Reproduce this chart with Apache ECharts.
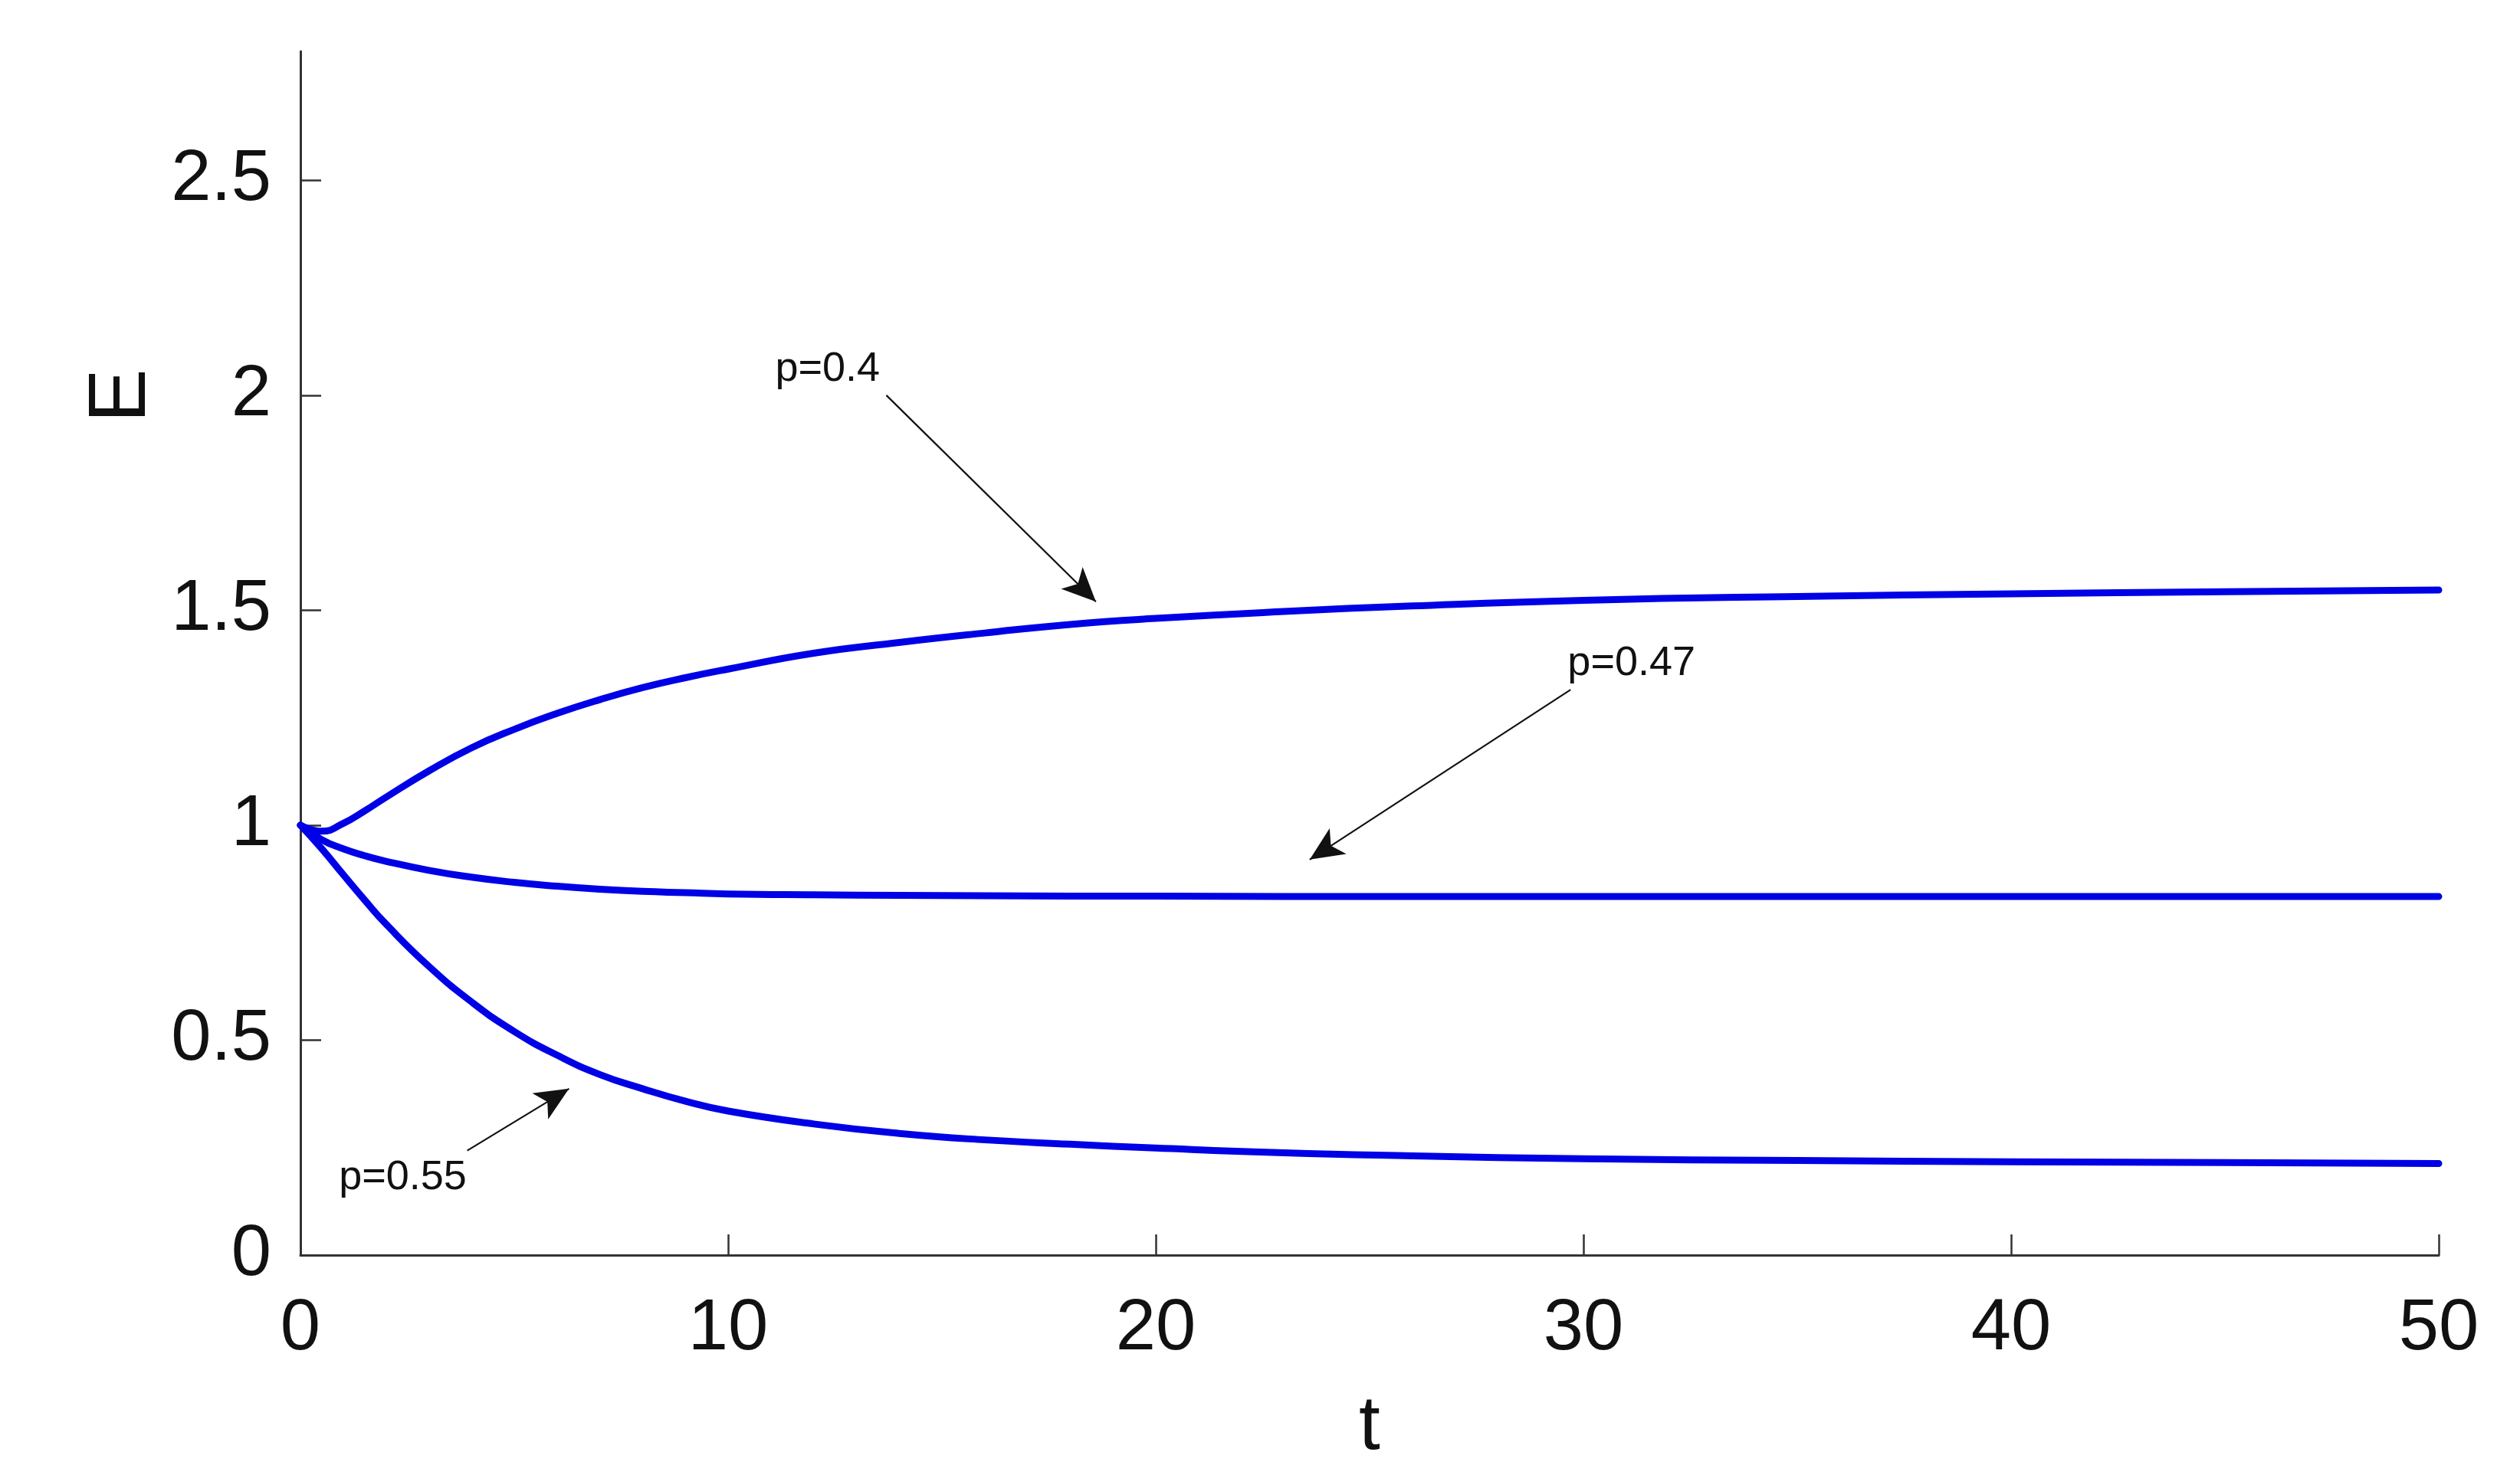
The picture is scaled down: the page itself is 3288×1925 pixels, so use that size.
<!DOCTYPE html>
<html>
<head>
<meta charset="utf-8">
<script src="https://cdn.jsdelivr.net/npm/echarts@6/dist/echarts.min.js"></script>
<style>
html,body{margin:0;padding:0;background:#fff;}
#chart{width:3288px;height:1925px;}
</style>
</head>
<body>
<div id="chart"></div>
<script>
// ---- data ----
const tValues = [0, 0.5, 1, 1.5, 2, 3, 4, 5, 6, 7, 8, 9, 10, 12, 14, 16, 18, 20, 23, 26, 30, 35, 40, 45, 50];
const eP040 = [1.0, 0.986, 1.004, 1.033, 1.065, 1.126, 1.180, 1.223, 1.260, 1.292, 1.320, 1.343, 1.363, 1.400, 1.425, 1.447, 1.467, 1.481, 1.497, 1.510, 1.523, 1.532, 1.538, 1.543, 1.547];
const eP047 = [1.0, 0.966, 0.945, 0.929, 0.916, 0.895, 0.879, 0.867, 0.858, 0.851, 0.846, 0.843, 0.840, 0.838, 0.837, 0.836, 0.835, 0.835, 0.834, 0.834, 0.834, 0.834, 0.834, 0.834, 0.834];
const eP055 = [1.0, 0.945, 0.885, 0.826, 0.770, 0.672, 0.589, 0.520, 0.465, 0.420, 0.387, 0.358, 0.335, 0.305, 0.283, 0.268, 0.258, 0.249, 0.238, 0.231, 0.224, 0.220, 0.217, 0.215, 0.213];
const yTickValues = [0, 0.5, 1, 1.5, 2, 2.5];
const xTickValues = [0, 10, 20, 30, 40, 50];
// annotations (data coordinates)
const annotLabels = ['p=0.4', 'p=0.47', 'p=0.55'];
const annotLabelAt = [[11.1, 2.06], [29.63, 1.375], [0.9, 0.18]];
const arrowTail = [[13.7, 2.0], [29.7, 1.315], [3.9, 0.243]];
const arrowHead = [[18.6, 1.52], [23.6, 0.92], [6.28, 0.387]];

const FONT = '"Liberation Sans", Arial, Helvetica, sans-serif';
const AXIS_COLOR = '#333333';
const LINE_COLOR = '#0000e6';

function pairs(ys) { return tValues.map((t, i) => [t, ys[i]]); }

const chart = echarts.init(document.getElementById('chart'));
const lineStyleBase = { color: LINE_COLOR, width: 9, cap: 'round', join: 'round' };

const option = {
  backgroundColor: '#ffffff',
  animation: false,
  grid: { left: 392, right: 106, top: 67, bottom: 287, containLabel: false },
  xAxis: {
    type: 'value', min: 0, max: 50, interval: 10,
    name: 't', nameLocation: 'middle', nameGap: 175,
    nameTextStyle: { fontFamily: FONT, fontSize: 100, color: '#111' },
    axisLine: { show: true, onZero: false, lineStyle: { color: AXIS_COLOR, width: 3 } },
    axisTick: { show: true, inside: true, length: 27, customValues: xTickValues, lineStyle: { color: AXIS_COLOR, width: 2.5 } },
    axisLabel: { fontFamily: FONT, fontSize: 94, color: '#111', margin: 50, customValues: xTickValues },
    splitLine: { show: false }
  },
  yAxis: {
    type: 'value', min: 0, max: 2.8, interval: 0.5,
    name: 'E', nameLocation: 'middle', nameRotate: 90, nameGap: 178,
    nameTextStyle: { fontFamily: FONT, fontSize: 105, color: '#111', padding: [0, 0, 0, 672] },
    axisLine: { show: true, onZero: false, lineStyle: { color: AXIS_COLOR, width: 3 } },
    axisTick: { show: true, inside: true, length: 27, customValues: yTickValues, lineStyle: { color: AXIS_COLOR, width: 2.5 } },
    axisLabel: { fontFamily: FONT, fontSize: 94, color: '#111', margin: 38, padding: [18, 0, 0, 0], customValues: yTickValues },
    splitLine: { show: false }
  },
  series: [
    {
      name: 'p=0.4', type: 'line', data: pairs(eP040), showSymbol: false, smooth: 0.5,
      lineStyle: lineStyleBase, silent: true,
      markLine: {
        silent: true, animation: false,
        symbol: ['none', 'arrow'], symbolSize: [30, 44],
        lineStyle: { color: '#111', width: 2.2, type: 'solid' },
        label: { show: false },
        data: arrowTail.map((p, i) => [{ coord: p }, { coord: arrowHead[i] }])
      },
      markPoint: {
        silent: true, animation: false,
        symbol: 'rect', symbolSize: 1, itemStyle: { color: 'rgba(0,0,0,0)' },
        label: {
          show: true, position: 'inside', align: 'left', verticalAlign: 'middle',
          fontFamily: FONT, fontSize: 54, color: '#111',
          formatter: p => p.name
        },
        data: annotLabels.map((s, i) => ({ name: s, coord: annotLabelAt[i] }))
      }
    },
    { name: 'p=0.47', type: 'line', data: pairs(eP047), showSymbol: false, smooth: 0.5, lineStyle: lineStyleBase, silent: true },
    { name: 'p=0.55', type: 'line', data: pairs(eP055), showSymbol: false, smooth: 0.5, lineStyle: lineStyleBase, silent: true }
  ]
};
chart.setOption(option);
</script>
</body>
</html>
